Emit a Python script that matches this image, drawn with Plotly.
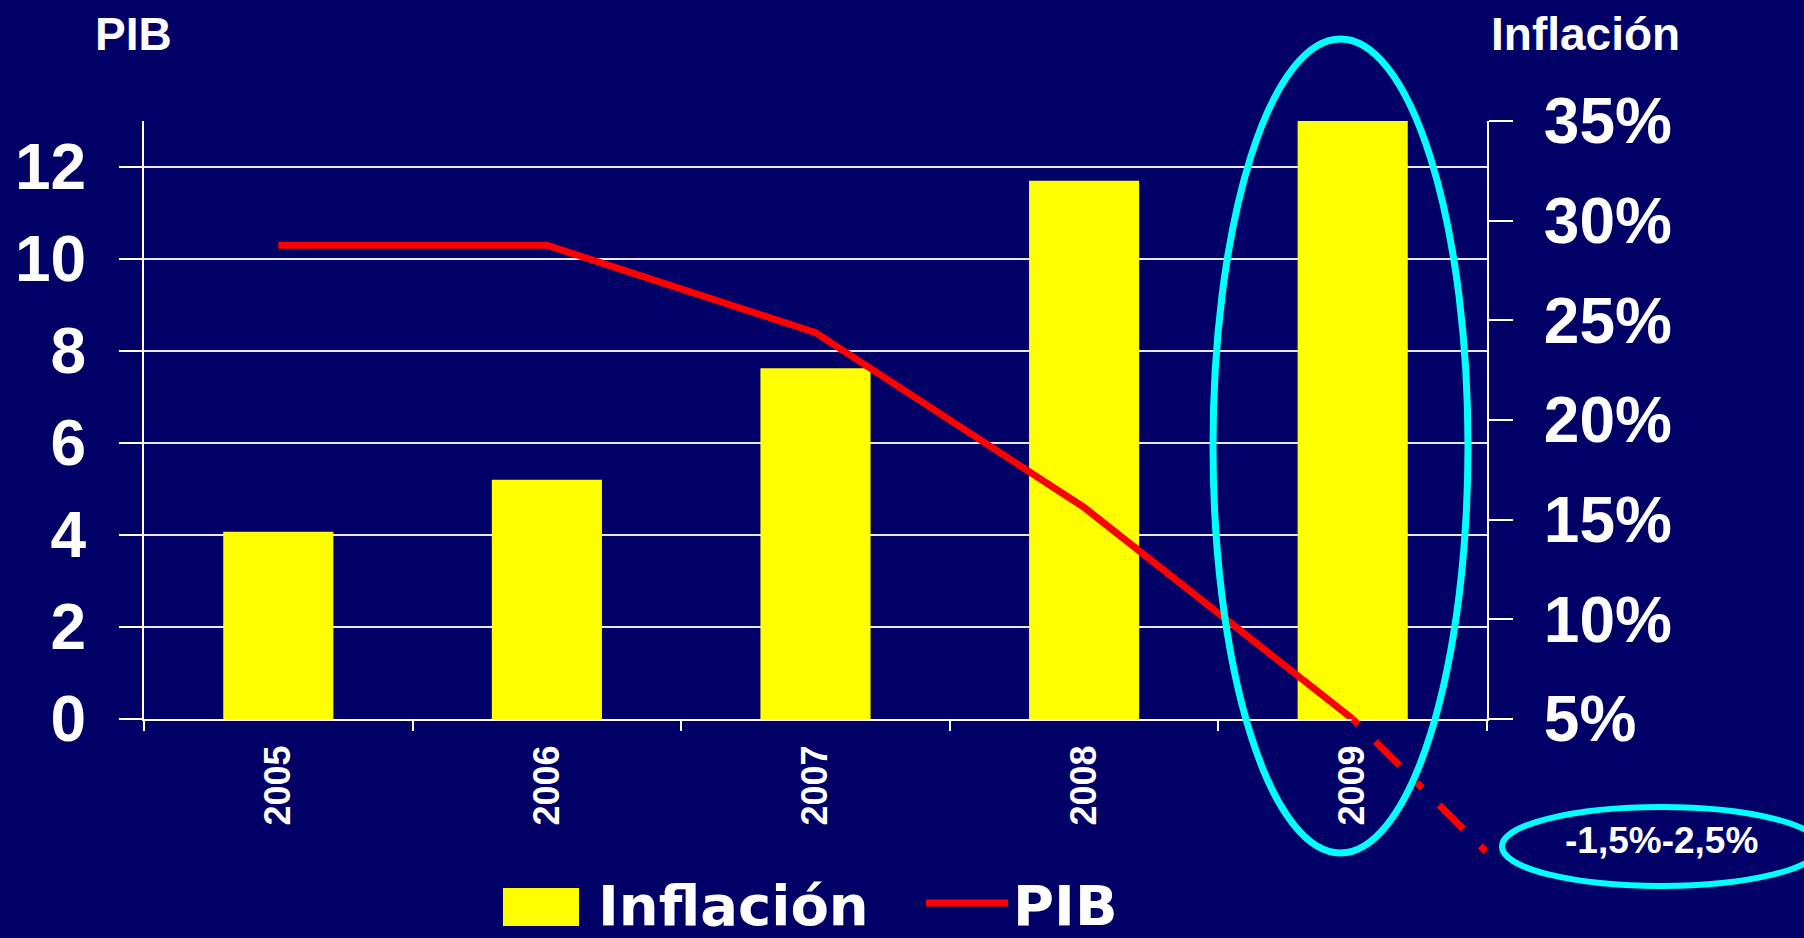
import plotly.graph_objects as go

# ---------------- data ----------------
years = ["2005", "2006", "2007", "2008", "2009"]
inflacion = [14.4, 17.0, 22.6, 32.0, 35.0]      # % (right axis)
pib = [10.3, 10.3, 8.4, 4.6, 0.0]               # (left axis)
proj_x = [4.0, 4.5]                              # projection 2009 -> beyond
proj_pib = [0.0, -2.9]
left_ticks = [0, 2, 4, 6, 8, 10, 12]
right_ticks = [5, 10, 15, 20, 25, 30, 35]
right_ticktext = ["5%", "10%", "15%", "20%", "25%", "30%", "35%"]
proj_label = "-1,5%-2,5%"

# ---------------- geometry (pixels) ----------------
W, H = 1804, 938
L, R = 144, 1487          # plot left / right
T = 121                   # plot top
AX0 = 719                 # y pixel of x-axis
B = 880                   # bottom of extended paper area

def px(x):
    return (x - L) / (R - L)

def py(y):
    return (B - y) / (B - T)

d0 = py(AX0)
left_max = 13
scale = left_max / (AX0 - T)
y3_min = -(B - AX0) * scale

BG = "#000066"
FONT = "Liberation Sans"
WHITE = "#FFFFFF"
GRID = "#E8E8F0"

fig = go.Figure()

fig.add_trace(go.Bar(
    x=years, y=inflacion, name="Inflación",
    marker=dict(color="#FFFF00", line=dict(width=0)),
    width=0.41, xaxis="x", yaxis="y",
))
fig.add_trace(go.Scatter(
    x=years, y=pib, name="PIB", mode="lines",
    line=dict(color="#FF0000", width=7),
    xaxis="x", yaxis="y2",
))
fig.add_trace(go.Scatter(
    x=proj_x, y=proj_pib, mode="lines", showlegend=False,
    line=dict(color="#FF0000", width=7, dash="8px,24px,34px,24px"),
    xaxis="x2", yaxis="y3",
))

tickfont = dict(family=FONT, size=64, color=WHITE, weight="bold")

fig.update_layout(
    width=W, height=H,
    paper_bgcolor=BG, plot_bgcolor="rgba(0,0,0,0)",
    margin=dict(l=L, r=W - R, t=T, b=H - B, autoexpand=False),
    showlegend=True,
    legend=dict(
        orientation="h", x=px(506), xanchor="left", y=py(903), yanchor="middle",
        font=dict(family="DejaVu Sans", size=56, color=WHITE, weight="bold"),
        bgcolor="rgba(0,0,0,0)", itemwidth=82, traceorder="normal",
        entrywidth=318, entrywidthmode="pixels",
    ),
    xaxis=dict(
        domain=[0, 1], anchor="y", type="category",
        showline=True, linecolor=WHITE, linewidth=2,
        ticks="outside", tickson="boundaries", ticklen=10, tickwidth=2, tickcolor=WHITE,
        tickangle=-90, ticklabelstandoff=10,
        tickfont=dict(family=FONT, size=36, color=WHITE, weight="bold"),
        showgrid=False, automargin=False, fixedrange=True,
    ),
    yaxis=dict(
        domain=[d0, 1], anchor="x", side="right", range=[5, 35],
        tickvals=right_ticks, ticktext=right_ticktext,
        showline=True, linecolor=WHITE, linewidth=2,
        ticks="outside", ticklen=24, tickwidth=2, tickcolor=WHITE,
        ticklabelstandoff=18,
        tickfont=tickfont, showgrid=False, zeroline=False, automargin=False,
    ),
    yaxis2=dict(
        overlaying="y", anchor="x", side="left", range=[0, left_max],
        tickvals=left_ticks,
        showline=True, linecolor=WHITE, linewidth=2,
        ticks="outside", ticklen=23, tickwidth=2, tickcolor=WHITE,
        ticklabelstandoff=20,
        tickfont=tickfont, showgrid=True, gridcolor=GRID, gridwidth=2,
        zeroline=False, automargin=False,
    ),
    xaxis2=dict(domain=[0, 1], anchor="y3", range=[-0.5, 4.5], visible=False,
                fixedrange=True),
    yaxis3=dict(domain=[0, 1], anchor="x2", range=[y3_min, left_max], visible=False,
                fixedrange=True),
    bargap=0.59,
)

# titles
fig.add_annotation(text="PIB", xref="paper", yref="paper", x=px(133), y=py(34),
                   xanchor="center", yanchor="middle", showarrow=False,
                   font=dict(family=FONT, size=46, color=WHITE, weight="bold"))
fig.add_annotation(text="Inflación", xref="paper", yref="paper", x=px(1682), y=py(34),
                   xanchor="right", yanchor="middle", showarrow=False,
                   font=dict(family=FONT, size=46, color=WHITE, weight="bold"))
fig.add_annotation(text=proj_label, xref="paper", yref="paper", x=px(1661), y=py(840),
                   xanchor="center", yanchor="middle", showarrow=False,
                   font=dict(family=FONT, size=37, color=WHITE, weight="bold"))

# highlight ellipses
fig.add_shape(type="circle", xref="paper", yref="paper",
              x0=px(1213), x1=px(1468), y0=py(853), y1=py(39),
              line=dict(color="#00FFFF", width=7), layer="above")
fig.add_shape(type="circle", xref="paper", yref="paper",
              x0=px(1502), x1=px(1820), y0=py(886), y1=py(807),
              line=dict(color="#00FFFF", width=6), layer="above")
# larger legend swatch for the bar series (sits under the legend's own icon)
fig.add_shape(type="rect", xref="paper", yref="paper",
              x0=px(503), x1=px(579), y0=py(926), y1=py(888),
              fillcolor="#FFFF00", line=dict(width=0), layer="above")

fig.write_html("out.html", config={"displayModeBar": False},
               post_script="document.body.style.margin='0';document.body.style.overflow='hidden';")
